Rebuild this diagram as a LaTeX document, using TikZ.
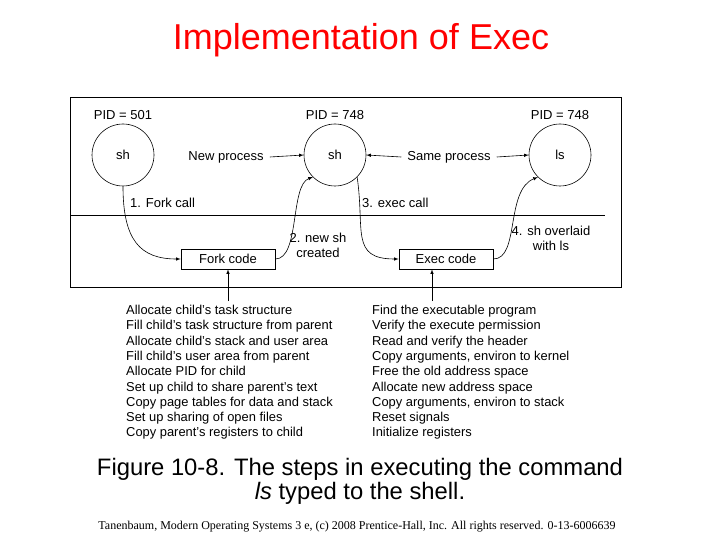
\documentclass[tikz,border=0pt]{standalone}
\usepackage{fontspec}
\setmainfont{Liberation Sans}
\newfontfamily\seriff{Liberation Serif}
\begin{document}
\begin{tikzpicture}[x=1pt,y=-1pt,
  circ/.style={draw,semithick,circle,minimum size=62pt,inner sep=0pt,font=\fontsize{13}{15}\selectfont},
  box/.style={draw,semithick,minimum width=94pt,minimum height=20pt,inner sep=0pt,font=\fontsize{13}{15}\selectfont},
  lbl/.style={font=\fontsize{13}{15}\selectfont,inner sep=1pt},
  lst/.style={font=\fontsize{12.9}{15.3}\selectfont,align=left,anchor=north west,inner sep=0pt},
  arr/.style={-latex,semithick}]
\useasboundingbox (0,0) rectangle (720,540);
\node[red,font=\fontsize{36}{40}\selectfont] (title) at (361,40) {Implementation of Exec};
\draw (70,97) rectangle (621,287);
\draw (70,215) -- (605,215);
\node[circ] (a) at (123,155) {sh};
\node[circ] (b) at (335,155) {sh};
\node[circ] (c) at (560,155) {ls};
\node[lbl] at (123,115) {PID = 501};
\node[lbl] at (335,115) {PID = 748};
\node[lbl] at (560,115) {PID = 748};
\node[box] (f) at (228,259) {Fork code};
\node[box] (e) at (446,259) {Exec code};
\node[lbl,inner sep=6pt] (np) at (226,157) {New process};
\node[lbl,inner sep=6pt] (sp) at (449,157) {Same process};
\draw[arr] (np.east) -- (b.west);
\draw[arr] (sp.west) -- (b.east);
\draw[arr] (sp.east) -- (c.west);
\draw[arr] (a.south) .. controls (123,240) and (140,259) .. (f.west);
\draw[arr] (f.east) .. controls (300,259) and (290,185) .. (b.south west);
\draw[arr] (b.south east) .. controls (365,230) and (350,259) .. (e.west);
\draw[arr] (e.east) .. controls (520,259) and (505,190) .. (c.south west);
\node[lbl,anchor=west] at (129,203) {1. Fork call};
\node[lbl,anchor=west] at (361,203) {3. exec call};
\node[lbl,align=center] at (318,245) {2. new sh\\created};
\node[lbl,align=center] at (551,238) {4. sh overlaid\\with ls};
\coordinate (fb) at (228,301);
\coordinate (eb) at (432,301);
\draw[arr] (fb) -- (f.south -| fb);
\draw[arr] (eb) -- (e.south -| eb);
\node[lst] at (126,305) {Allocate child's task structure\\Fill child's task structure from parent\\Allocate child's stack and user area\\Fill child's user area from parent\\Allocate PID for child\\Set up child to share parent's text\\Copy page tables for data and stack\\Set up sharing of open files\\Copy parent's registers to child};
\node[lst] at (372,305) {Find the executable program\\Verify the execute permission\\Read and verify the header\\Copy arguments, environ to kernel\\Free the old address space\\Allocate new address space\\Copy arguments, environ to stack\\Reset signals\\Initialize registers};
\node[font=\fontsize{23.8}{24}\selectfont,align=center] at (360,481) {Figure 10-8. The steps in executing the command\\\textit{ls} typed to the shell.};
\node[font=\seriff\fontsize{12}{13}\selectfont] at (357,527) {Tanenbaum, Modern Operating Systems 3 e, (c) 2008 Prentice-Hall, Inc. All rights reserved. 0-13-6006639};
\end{tikzpicture}
\end{document}
